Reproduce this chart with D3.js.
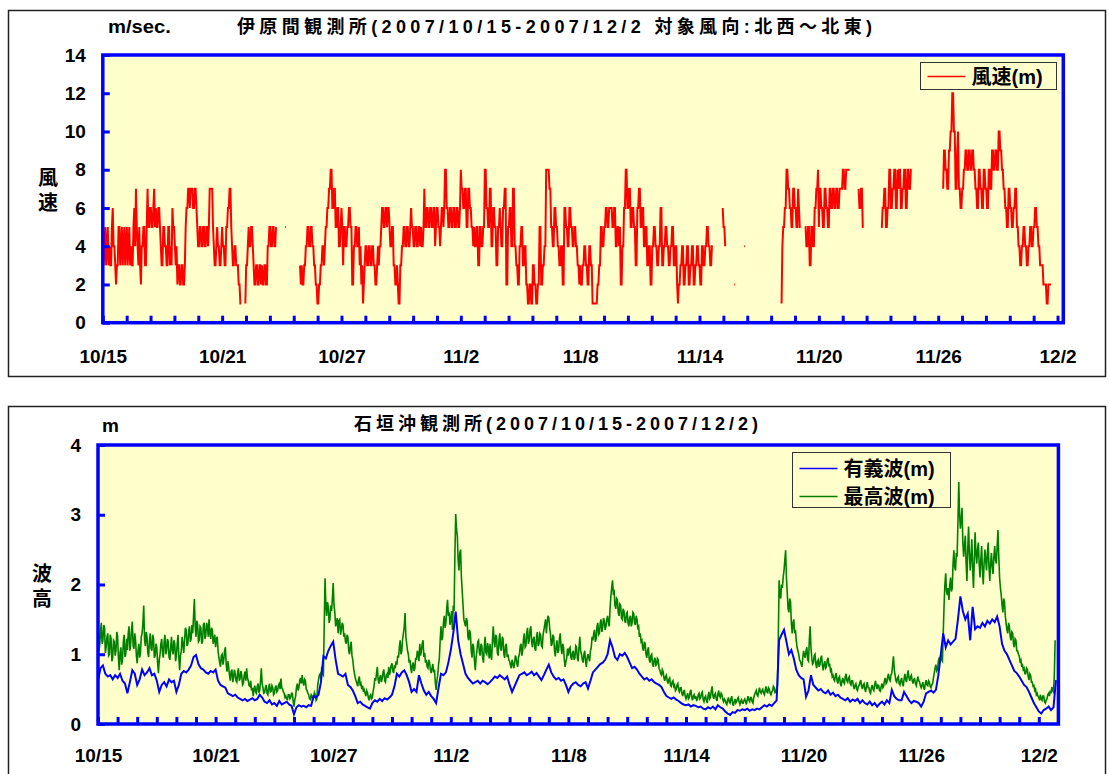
<!DOCTYPE html>
<html>
<head>
<meta charset="utf-8">
<script src="https://cdn.jsdelivr.net/npm/d3@7"></script>
<style>
  body { margin: 0; background: #fff; }
</style>
</head>
<body>
<svg id="chart" width="1109" height="774"></svg>
<script>
// Wind speed at Ibaruma and wave heights off Ishigaki, 2007/10/15 - 2007/12/2
const _ = null; // missing observation

const dateLabels = ["10/15", "10/21", "10/27", "11/2", "11/8", "11/14", "11/20", "11/26", "12/2"];
const labelDays = [0, 6, 12, 18, 24, 30, 36, 42, 48];
const windTicks = [0, 2, 4, 6, 8, 10, 12, 14];
const waveTicks = [0, 1, 2, 3, 4];

// wind speed (m/s), hourly, one row per day from 10/15
const windStepHours = 1;
const windSpeed = [
  5,3,4,5,3,4,5,3,4,3,3,5,6,4,4,3,2,3,3,5,5,3,4,5,
  3,4,5,3,4,5,3,4,5,3,4,3,3,5,6,4,7,5,4,3,5,3,2,4,
  4,5,5,3,3,5,7,5,5,6,6,5,5,6,7,5,6,5,5,6,6,5,4,3,
  3,5,5,4,4,3,3,5,5,3,4,3,6,5,5,4,3,4,2,3,3,2,2,3,
  3,2,2,3,5,6,6,7,7,6,7,7,7,6,6,7,7,6,5,4,4,5,5,4,
  4,5,5,4,4,5,5,4,5,7,7,7,7,5,4,3,3,4,5,4,4,3,3,4,
  5,4,4,3,3,5,5,6,6,7,7,5,4,3,3,4,4,3,3,3,2,2,1,1,
  _,_,_,_,1,3,3,4,5,4,4,5,5,4,3,2,2,3,3,2,2,3,3,2,
  3,2,2,3,3,2,2,4,4,5,5,4,4,5,5,4,4,5,_,_,_,_,_,_,
  _,_,_,_,5,5,_,_,_,_,_,_,_,_,_,_,_,_,_,_,_,_,3,2,
  3,2,2,3,3,4,4,5,5,4,4,5,5,4,4,3,3,2,2,1,1,2,2,3,
  3,4,4,3,4,5,5,6,6,7,7,8,8,6,6,7,7,5,5,6,6,4,4,5,
  6,5,3,5,5,4,4,5,5,6,6,5,5,2,2,4,4,5,5,4,4,5,3,4,
  2,3,1,2,3,4,4,3,3,4,4,3,3,4,4,3,3,2,2,3,4,3,4,4,
  5,6,6,5,5,6,6,5,6,6,5,4,4,5,5,3,3,2,2,3,2,1,1,3,
  3,4,4,5,5,4,4,5,5,4,4,5,6,5,5,4,4,5,5,4,4,5,5,4,
  5,4,4,5,7,5,5,6,6,5,5,6,6,5,5,6,6,4,5,6,6,5,5,4,
  5,6,6,5,6,8,8,6,6,5,5,6,6,5,5,6,6,5,5,6,6,5,5,6,
  8,7,7,6,6,7,7,5,5,7,7,6,6,5,5,4,5,4,4,5,5,3,3,5,
  5,4,4,5,5,8,8,6,6,5,5,7,7,4,4,6,6,5,5,3,3,5,5,6,
  5,4,4,6,6,7,7,2,2,5,5,6,6,4,4,7,7,4,4,3,3,2,2,4,
  4,5,5,3,3,4,4,2,2,1,1,2,2,1,1,3,3,2,2,1,1,2,2,5,
  5,2,2,3,3,4,4,8,8,8,8,7,7,5,5,4,4,6,6,5,5,4,4,3,
  3,4,4,2,2,6,6,5,5,4,4,6,6,5,5,4,4,5,5,4,4,3,3,2,
  3,2,2,3,3,4,4,3,3,2,2,4,4,3,3,1,1,1,1,1,1,2,2,3,
  3,5,5,4,4,5,5,6,6,5,5,6,6,6,6,5,5,6,6,4,4,5,5,4,
  5,2,2,4,4,6,6,8,8,6,6,7,7,5,5,6,6,5,5,3,3,6,6,7,
  7,5,5,6,6,4,4,5,5,3,3,4,4,2,2,4,4,5,5,4,4,3,3,4,
  4,6,6,3,3,4,4,5,5,4,4,3,3,4,4,5,5,3,3,4,4,2,1,2,
  2,3,3,4,4,2,2,3,3,4,4,2,2,3,3,4,4,2,2,3,3,4,4,3,
  3,2,2,4,4,3,3,4,4,5,5,4,4,3,3,4,4,_,_,_,_,_,_,_,
  _,_,_,_,6,5,5,4,_,_,_,_,_,_,_,_,_,_,2,2,_,_,_,_,
  _,_,_,_,_,_,4,4,_,_,_,_,_,_,_,_,_,_,_,_,_,_,_,_,
  _,_,_,_,_,_,_,_,_,_,_,_,_,_,_,_,_,_,_,_,_,_,_,_,
  _,_,_,1,4,5,5,6,6,8,8,7,7,6,6,5,5,7,7,6,6,5,5,7,
  6,5,5,_,_,_,_,5,5,4,4,5,5,3,3,5,5,4,4,6,6,7,7,8,
  5,7,7,6,6,5,5,7,7,6,6,5,5,7,7,6,6,7,7,6,6,7,7,6,
  6,7,7,7,7,8,8,7,7,8,8,8,8,8,_,_,_,_,_,_,_,_,_,_,
  7,6,6,7,7,5,5,_,_,_,_,_,_,_,_,_,_,_,_,_,_,_,_,_,
  _,_,_,5,5,6,6,7,7,5,5,6,6,8,8,6,6,7,7,8,8,6,6,8,
  7,8,8,6,6,7,7,8,8,6,6,8,8,7,7,8,8,_,_,_,_,_,_,_,
  _,_,_,_,_,_,_,_,_,_,_,_,_,_,_,_,_,_,_,_,_,_,_,_,
  _,_,_,_,_,_,7,9,9,8,8,7,7,9,9,10,10,12,12,10,10,7,7,9,
  10,7,7,6,6,7,7,8,8,9,9,8,8,9,9,8,8,9,9,8,8,7,7,6,
  6,8,8,7,7,6,6,8,8,7,7,6,6,8,8,7,7,9,9,8,8,9,9,8,
  8,10,10,9,9,8,8,7,7,6,6,5,5,7,7,6,6,5,5,6,6,7,7,5,
  5,4,4,3,3,4,4,5,5,4,4,3,3,4,4,5,5,4,4,5,5,6,6,5,
  5,4,4,3,3,3,3,2,2,2,2,1,1,2,2,2,2,_,_,_,_,_,_,_
];

// significant wave height (m), one value every 3 hours
const sigStepHours = 3;
const sigWave = [
  0.62,0.80,0.84,0.72,0.68,0.70,0.64,0.70,
  0.66,0.72,0.62,0.58,0.44,0.60,0.77,0.72,
  0.56,0.64,0.78,0.70,0.74,0.80,0.70,0.72,
  0.62,0.46,0.56,0.60,0.54,0.64,0.60,0.62,
  0.46,0.56,0.72,0.76,0.74,0.78,0.84,0.96,
  0.99,0.86,0.80,0.78,0.74,0.72,0.76,0.74,
  0.78,0.62,0.56,0.54,0.52,0.44,0.42,0.40,
  0.42,0.38,0.36,0.34,0.36,0.33,0.35,0.37,
  0.34,0.36,0.42,0.38,0.32,0.30,0.34,0.28,
  0.30,0.26,0.33,0.28,0.30,0.32,0.28,0.26,
  0.14,0.24,0.27,0.25,0.26,0.24,0.27,0.26,
  0.40,0.38,0.42,0.60,0.97,0.94,1.05,1.12,
  1.18,0.92,0.72,0.70,0.68,0.72,0.56,0.53,
  0.48,0.40,0.30,0.32,0.28,0.26,0.24,0.22,
  0.30,0.34,0.32,0.36,0.33,0.37,0.35,0.38,
  0.42,0.54,0.72,0.68,0.74,0.77,0.70,0.60,
  0.46,0.50,0.46,0.70,0.58,0.48,0.42,0.46,
  0.40,0.36,0.30,0.52,0.72,0.70,0.74,0.88,
  1.06,1.30,1.61,1.20,1.00,0.86,0.72,0.66,
  0.62,0.58,0.60,0.62,0.58,0.62,0.60,0.57,
  0.60,0.64,0.68,0.66,0.70,0.67,0.64,0.68,
  0.56,0.46,0.54,0.62,0.70,0.72,0.74,0.70,
  0.72,0.75,0.70,0.73,0.68,0.63,0.70,0.78,
  0.85,0.74,0.68,0.64,0.66,0.62,0.64,0.56,
  0.46,0.54,0.58,0.60,0.56,0.54,0.58,0.60,
  0.51,0.62,0.74,0.78,0.82,0.86,0.88,0.92,
  1.00,1.20,1.10,0.96,0.92,1.00,0.98,1.02,
  0.96,0.88,0.80,0.82,0.78,0.72,0.68,0.64,
  0.66,0.62,0.64,0.60,0.58,0.56,0.53,0.46,
  0.40,0.38,0.36,0.38,0.35,0.33,0.30,0.28,
  0.27,0.28,0.25,0.27,0.26,0.24,0.25,0.22,
  0.21,0.24,0.22,0.25,0.21,0.27,0.24,0.22,
  0.18,0.15,0.13,0.17,0.16,0.20,0.19,0.21,
  0.20,0.22,0.19,0.21,0.20,0.22,0.21,0.24,
  0.27,0.25,0.28,0.26,0.30,0.34,1.20,1.28,
  1.35,1.18,1.00,1.06,0.94,0.78,0.70,0.66,
  0.64,0.39,0.48,0.70,0.56,0.52,0.48,0.50,
  0.46,0.44,0.48,0.42,0.45,0.40,0.42,0.38,
  0.36,0.34,0.37,0.32,0.35,0.33,0.36,0.30,
  0.34,0.30,0.28,0.32,0.27,0.30,0.25,0.29,
  0.32,0.28,0.34,0.30,0.49,0.40,0.36,0.34,
  0.34,0.46,0.40,0.34,0.30,0.33,0.32,0.30,
  0.25,0.32,0.44,0.46,0.48,0.45,0.49,0.70,
  1.00,1.30,1.10,1.20,1.14,1.18,1.22,1.50,
  1.83,1.62,1.50,1.58,1.20,1.68,1.36,1.40,
  1.38,1.45,1.40,1.48,1.44,1.50,1.46,1.54,
  1.40,1.15,1.05,1.00,0.92,0.84,0.76,0.73,
  0.68,0.62,0.56,0.53,0.46,0.38,0.30,0.24,
  0.18,0.15,0.20,0.22,0.25,0.20,0.24,0.63
];

// maximum wave height (m), hourly
const maxStepHours = 1;
const maxWave = [
  1.58,1.05,1.12,1.30,1.45,1.15,1.20,1.42,1.38,1.02,1.10,1.25,1.30,.98,1.00,1.28,1.22,.90,.95,1.20,1.18,.98,1.05,1.32,
  1.25,.95,.77,1.02,1.10,.85,.92,1.18,1.28,.96,1.00,1.22,1.06,1.30,1.40,1.05,1.15,1.35,1.47,1.12,1.08,1.30,1.20,.98,
  .87,1.05,1.15,.95,1.02,1.25,1.30,1.45,1.70,1.20,1.12,1.32,1.25,1.02,.96,1.20,1.30,1.08,1.05,1.28,1.22,.95,.98,1.15,
  1.10,.88,.73,.92,1.00,1.15,1.22,1.02,.95,1.18,1.28,1.00,1.05,1.22,1.18,.96,.92,1.10,1.25,1.05,1.00,1.20,1.15,.90,
  .98,1.15,1.28,.95,.77,.98,1.05,1.25,1.15,1.02,1.20,1.38,1.35,1.12,1.15,1.32,1.40,1.18,1.22,1.42,1.30,1.55,1.79,1.40,
  1.25,1.48,1.42,1.18,1.20,1.40,1.38,1.15,1.18,1.42,1.45,1.22,1.28,1.45,1.40,1.25,1.50,1.30,1.22,1.38,1.35,1.15,1.20,1.28,
  1.10,1.22,1.25,1.05,.95,.88,.82,.98,1.00,.85,.92,1.05,1.10,.85,.75,.90,.82,.70,.62,.75,.78,.60,.66,.78,
  .72,.62,.60,.74,.80,.62,.65,.76,.70,.56,.58,.70,.75,.62,.80,.66,.62,.55,.54,.62,.48,.52,.40,.50,
  .55,.46,.44,.54,.58,.45,.48,.62,.80,.58,.52,.44,.45,.52,.56,.44,.42,.52,.58,.46,.47,.55,.52,.42,
  .44,.52,.55,.46,.48,.56,.58,.50,.65,.52,.50,.46,.44,.38,.40,.36,.35,.42,.42,.36,.38,.44,.44,.32,
  .25,.35,.40,.52,.58,.48,.52,.62,.66,.58,.70,.60,.55,.64,.62,.50,.48,.44,.42,.36,.35,.42,.40,.34,
  .38,.45,.42,.34,.36,.55,.63,.70,.72,.64,.82,.72,.70,1.40,2.09,1.70,1.55,1.75,1.68,1.45,1.50,1.70,1.62,1.80,
  2.02,1.70,1.60,1.40,1.45,1.52,1.30,1.48,1.50,1.28,1.35,1.45,1.42,1.25,1.30,1.18,1.15,1.28,1.25,1.05,1.00,1.12,1.18,.98,
  .92,.80,.73,.66,.62,.58,.54,.64,.68,.55,.58,.50,.55,.46,.49,.44,.40,.48,.45,.38,.34,.40,.42,.36,
  .38,.48,.54,.66,.62,.72,.82,.64,.58,.66,.70,.60,.65,.74,.78,.62,.60,.70,.72,.66,.82,.70,.76,.84,
  .87,.76,.73,.84,.80,.90,.85,.98,.95,1.10,1.20,1.00,1.05,1.22,1.30,1.40,1.59,1.25,1.15,1.05,1.00,.88,.92,.80,
  .73,.85,.88,.76,.80,.95,.92,1.05,1.00,.90,1.15,.98,1.05,1.15,1.20,.96,1.02,.88,.92,.82,.80,.92,.88,.78,
  .73,.80,.86,.74,.78,.60,.49,.62,.70,.85,.95,1.20,1.40,1.20,1.25,1.45,1.55,1.38,1.45,1.65,1.78,1.55,1.60,1.42,
  1.50,1.62,1.35,1.70,1.62,2.40,3.01,2.80,2.69,2.35,2.20,2.45,2.50,2.10,1.90,1.70,1.50,1.45,1.40,1.52,1.48,1.25,1.20,1.35,
  1.30,1.05,.95,1.15,1.10,.90,.77,.96,1.05,1.18,1.20,1.02,.98,1.15,1.12,.95,.88,1.10,1.25,1.02,1.00,1.16,1.08,.94,
  1.15,.98,.92,1.20,1.40,1.18,1.10,1.28,1.25,1.02,.98,1.20,1.30,1.08,1.05,1.25,1.22,1.00,.95,1.12,1.15,.96,1.00,.92,
  .90,.84,.80,.92,.88,.80,.85,.98,.95,.86,.82,.96,1.00,1.12,1.15,.98,1.05,1.22,1.30,1.10,1.12,1.30,1.38,1.15,
  1.20,1.35,1.40,1.18,1.10,1.22,1.25,1.08,1.05,1.25,1.32,1.12,1.15,1.30,1.28,1.12,1.10,1.28,1.35,1.42,1.50,1.30,1.45,1.55,
  1.52,1.38,1.30,1.12,1.15,1.28,1.25,1.05,.97,1.12,1.20,1.02,1.05,1.22,1.30,1.10,1.00,1.15,1.10,.92,.82,.90,.95,1.08,
  .98,1.08,1.10,.96,.92,1.02,1.05,.92,.95,1.12,1.10,.94,.90,1.10,1.25,1.05,1.00,.92,.88,1.00,1.05,.90,.82,.95,
  1.00,.95,.90,1.05,1.10,1.25,1.20,1.30,1.35,1.18,1.22,1.40,1.45,1.28,1.30,1.45,1.50,1.32,1.38,1.52,1.48,1.35,1.40,1.50,
  1.55,1.45,1.40,1.65,1.83,1.95,2.06,1.88,1.90,1.70,1.65,1.80,1.78,1.60,1.55,1.72,1.70,1.52,1.50,1.65,1.62,1.48,1.45,1.58,
  1.60,1.45,1.40,1.52,1.55,1.40,1.45,1.60,1.58,1.45,1.42,1.55,1.50,1.38,1.40,1.25,1.30,1.18,1.20,1.08,1.05,1.18,1.15,1.00,
  .95,1.05,1.10,.92,.88,.98,1.00,.86,.82,.92,.95,.84,.85,.94,.92,.80,.77,.72,.70,.78,.75,.66,.62,.68,
  .70,.62,.58,.64,.66,.56,.54,.60,.62,.54,.56,.48,.50,.56,.58,.48,.46,.52,.52,.44,.40,.46,.49,.40,
  .36,.40,.44,.36,.38,.46,.49,.38,.34,.40,.42,.36,.40,.34,.35,.42,.44,.36,.38,.44,.46,.35,.32,.38,
  .40,.34,.30,.40,.46,.36,.38,.48,.54,.40,.36,.42,.44,.36,.33,.42,.48,.40,.38,.44,.42,.35,.32,.36,
  .34,.30,.28,.34,.38,.32,.30,.36,.40,.30,.26,.32,.36,.30,.32,.36,.38,.32,.28,.33,.35,.30,.30,.34,
  .36,.32,.28,.35,.40,.34,.32,.38,.38,.32,.30,.38,.42,.45,.48,.42,.40,.46,.52,.46,.44,.48,.50,.44,
  .42,.48,.54,.46,.45,.52,.50,.44,.42,.46,.48,.54,.52,.45,.46,.52,.54,1.20,2.06,1.85,1.80,2.00,1.95,2.10,
  2.20,2.35,2.49,2.10,1.87,1.65,1.60,1.80,1.75,1.45,1.30,1.45,1.50,1.30,1.35,1.20,1.10,1.05,1.00,.92,.90,.86,.82,.95,
  1.05,.98,.95,1.05,1.10,.92,.90,1.20,1.40,1.10,.95,.86,.88,.98,1.00,.86,.80,.90,.92,.82,.85,.94,.98,.84,
  .77,.86,.90,.80,.82,.92,.95,.84,.85,.76,.78,.68,.70,.64,.62,.70,.73,.62,.58,.66,.68,.58,.54,.62,
  .66,.60,.58,.68,.72,.62,.60,.66,.68,.58,.56,.62,.62,.54,.50,.56,.58,.50,.48,.54,.55,.60,.63,.54,
  .50,.56,.58,.50,.46,.55,.60,.52,.52,.46,.44,.52,.56,.50,.48,.56,.62,.54,.50,.56,.55,.48,.47,.54,
  .58,.52,.54,.62,.66,.58,.60,.68,.72,.64,.62,.70,.73,.85,.97,.78,.70,.62,.60,.66,.68,.58,.56,.62,
  .66,.58,.54,.64,.72,.64,.60,.70,.77,.66,.62,.68,.70,.62,.58,.64,.65,.58,.55,.62,.68,.62,.60,.55,
  .52,.56,.60,.52,.49,.58,.63,.56,.55,.62,.60,.54,.52,.56,.58,.66,.73,.80,.85,.76,.78,.90,.95,.88,
  1.00,.92,.90,1.30,1.70,2.00,2.16,1.90,1.85,1.95,1.78,2.00,2.10,1.90,1.95,2.30,2.49,2.25,2.20,2.45,2.40,2.90,3.47,3.00,
  2.80,2.95,3.10,2.60,2.40,2.55,2.70,2.30,2.05,2.50,2.83,2.45,2.20,2.40,2.65,2.20,1.95,2.35,2.75,2.45,2.30,2.50,2.60,2.30,
  2.10,2.35,2.55,2.20,2.00,2.30,2.50,2.35,2.20,2.45,2.60,2.25,2.05,2.30,2.45,2.25,2.15,2.40,2.55,2.35,2.30,2.55,2.78,2.40,
  2.10,1.95,1.85,1.70,1.60,1.80,1.75,1.55,1.44,1.35,1.30,1.45,1.40,1.25,1.20,1.32,1.30,1.15,1.10,1.22,1.20,1.05,1.05,1.00,
  .98,.90,.92,.84,.85,.78,.80,.72,.72,.80,.78,.68,.63,.72,.70,.60,.60,.54,.55,.48,.50,.42,.44,.40,
  .38,.34,.42,.36,.34,.40,.40,.32,.30,.34,.36,.42,.44,.40,.48,.44,.53,.48,.46,.70,1.20
];

const FONT = '"Liberation Sans", Arial, "Noto Sans CJK JP", sans-serif';

const svg = d3.select("#chart");

// outer frames of the two charts
svg.append("rect")
  .attr("x", 8.5).attr("y", 10.5).attr("width", 1097).attr("height", 366)
  .attr("fill", "#fff").attr("stroke", "#222").attr("stroke-width", 1.5);
svg.append("rect")
  .attr("x", 8.5).attr("y", 406.5).attr("width", 1097).attr("height", 400)
  .attr("fill", "#fff").attr("stroke", "#222").attr("stroke-width", 1.5);

function addText(x, y, str, size, extra) {
  const t = svg.append("text")
    .attr("x", x).attr("y", y)
    .attr("font-family", FONT).attr("font-weight", "bold").attr("font-size", size)
    .attr("fill", "#000")
    .text(str);
  if (extra) extra(t);
  return t;
}

function drawPanel(o) {
  const g = svg.append("g");
  const x = d3.scaleLinear().domain([0, o.xMax]).range([o.left, o.right]);
  const y = d3.scaleLinear().domain([0, o.yMax]).range([o.bottom, o.top]);

  g.append("rect")
    .attr("x", o.left).attr("y", o.top)
    .attr("width", o.right - o.left).attr("height", o.bottom - o.top)
    .attr("fill", "#ffffcc");

  g.append("clipPath").attr("id", o.id + "-clip")
    .append("rect")
    .attr("x", o.left).attr("y", o.top)
    .attr("width", o.right - o.left).attr("height", o.bottom - o.top);

  // data lines, gaps where there is no observation
  o.series.forEach(s => {
    const line = d3.line()
      .defined(d => d != null)
      .x((d, i) => x(i * s.step / 24))
      .y(d => y(d));
    g.append("path")
      .datum(s.values)
      .attr("clip-path", `url(#${o.id}-clip)`)
      .attr("fill", "none")
      .attr("stroke", s.color)
      .attr("stroke-width", s.width)
      .attr("d", line);
  });

  // blue plot border
  g.append("rect")
    .attr("x", o.left).attr("y", o.top)
    .attr("width", o.right - o.left).attr("height", o.bottom - o.top)
    .attr("fill", "none").attr("stroke", "#0000ff").attr("stroke-width", 3.5);

  const styleAxis = a => {
    a.select(".domain").remove();
    a.attr("font-family", FONT).attr("font-size", 19).attr("font-weight", "bold");
    a.selectAll("line").attr("stroke", "#0000ff").attr("stroke-width", 3);
    a.selectAll("text").attr("fill", "#000");
  };

  // y axis, ticks pointing inward
  g.append("g")
    .attr("transform", `translate(${o.left},0)`)
    .call(d3.axisLeft(y).tickValues(o.yTicks).tickFormat(d3.format("d"))
      .tickSizeInner(-7).tickSizeOuter(0).tickPadding(17))
    .call(styleAxis);

  // x minor ticks
  g.append("g")
    .attr("transform", `translate(0,${o.bottom})`)
    .call(d3.axisBottom(x).tickValues(o.minorTicks).tickSizeInner(-7).tickSizeOuter(0).tickFormat(() => ""))
    .call(styleAxis);

  // x date labels
  g.append("g")
    .attr("transform", `translate(0,${o.bottom})`)
    .call(d3.axisBottom(x).tickValues(labelDays).tickSize(0).tickPadding(o.labelPad)
      .tickFormat((d, i) => dateLabels[i]))
    .call(styleAxis);

  return g;
}

// ---- top: wind speed ----
drawPanel({
  id: "wind", left: 102.8, right: 1063.3, top: 55, bottom: 322.7,
  xMax: 48.29, yMax: 14, yTicks: windTicks,
  minorTicks: d3.range(0, 48.01, 1.2), labelPad: 27,
  series: [{ values: windSpeed, step: windStepHours, color: "#ff0000", width: 2 }]
});

addText(237, 33, "伊原間観測所(2007/10/15-2007/12/2  対象風向:北西～北東)", 18,
  t => t.attr("textLength", 635).attr("lengthAdjust", "spacing"));
addText(108, 33, "m/sec.", 18, t => t.attr("textLength", 63).attr("lengthAdjust", "spacingAndGlyphs"));

["風", "速"].forEach((c, i) => {
  addText(48, 185 + i * 25, c, 20, t => t.attr("text-anchor", "middle"));
});

// legend
const windLegend = svg.append("g").attr("transform", "translate(920.5,62.5)");
windLegend.append("rect")
  .attr("width", 136).attr("height", 27)
  .attr("fill", "#ffffcc").attr("stroke", "#333").attr("stroke-width", 1);
windLegend.append("line")
  .attr("x1", 7).attr("x2", 45).attr("y1", 14).attr("y2", 14)
  .attr("stroke", "#ff0000").attr("stroke-width", 1.5);
windLegend.append("text")
  .attr("x", 51).attr("y", 21)
  .attr("font-family", FONT).attr("font-weight", "bold").attr("font-size", 20)
  .text("風速(m)");

// ---- bottom: wave heights ----
drawPanel({
  id: "wave", left: 98, right: 1058.4, top: 445, bottom: 724,
  xMax: 49, yMax: 4, yTicks: waveTicks,
  minorTicks: d3.range(0, 49, 1), labelPad: 25,
  series: [
    { values: maxWave, step: maxStepHours, color: "#008000", width: 1.6 },
    { values: sigWave, step: sigStepHours, color: "#0000ff", width: 2 }
  ]
});

addText(354, 430, "石垣沖観測所(2007/10/15-2007/12/2)", 18,
  t => t.attr("textLength", 404).attr("lengthAdjust", "spacing"));
addText(102, 432, "m", 19);

["波", "高"].forEach((c, i) => {
  addText(42, 581 + i * 25, c, 20, t => t.attr("text-anchor", "middle"));
});

const waveLegend = svg.append("g").attr("transform", "translate(792.5,452.5)");
waveLegend.append("rect")
  .attr("width", 158).attr("height", 55)
  .attr("fill", "#ffffcc").attr("stroke", "#333").attr("stroke-width", 1);
[["有義波(m)", "#0000ff"], ["最高波(m)", "#008000"]].forEach(([name, color], i) => {
  const y0 = 16 + i * 28;
  waveLegend.append("line")
    .attr("x1", 7).attr("x2", 45).attr("y1", y0).attr("y2", y0)
    .attr("stroke", color).attr("stroke-width", 1.5);
  waveLegend.append("text")
    .attr("x", 51).attr("y", y0 + 7)
    .attr("font-family", FONT).attr("font-weight", "bold").attr("font-size", 20)
    .text(name);
});
</script>
</body>
</html>
